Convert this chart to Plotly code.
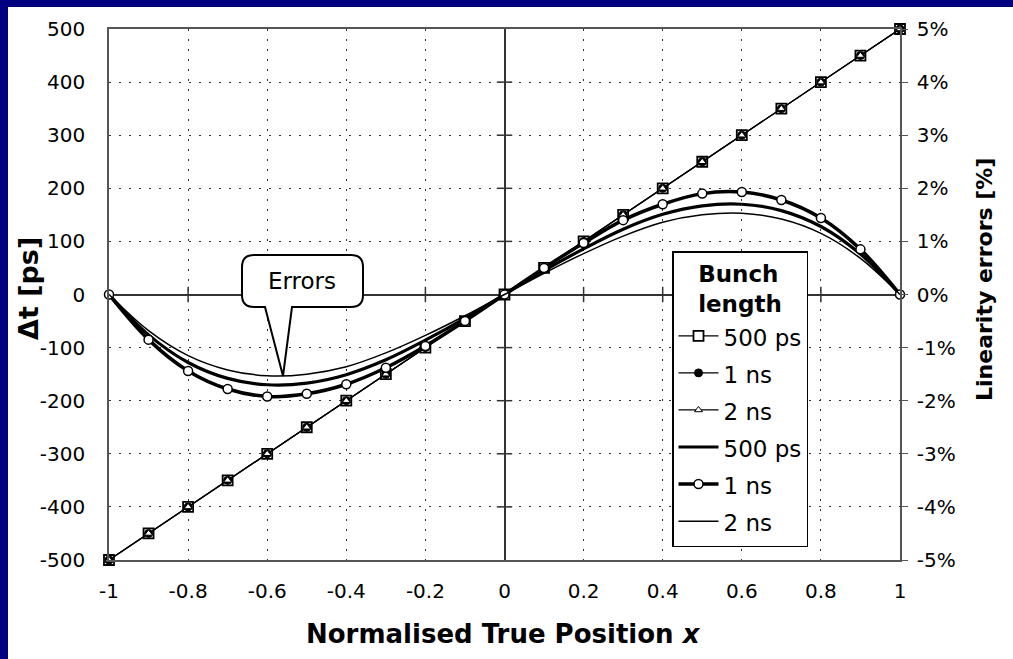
import plotly.graph_objects as go

# ---------------- data ----------------
x_pos = [-1.0, -0.9, -0.8, -0.7, -0.6, -0.5, -0.4, -0.3, -0.2, -0.1, 0.0,
         0.1, 0.2, 0.3, 0.4, 0.5, 0.6, 0.7, 0.8, 0.9, 1.0]

# Delta t [ps] (left axis)
dt_500ps = [-500, -450, -400, -350, -300, -250, -200, -150, -100, -50, 0,
            50, 100, 150, 200, 250, 300, 350, 400, 450, 500]
dt_1ns = [-500, -450, -400, -350, -300, -250, -200, -150, -100, -50, 0,
          50, 100, 150, 200, 250, 300, 350, 400, 450, 500]
dt_2ns = [-500, -450, -400, -350, -300, -250, -200, -150, -100, -50, 0,
          50, 100, 150, 200, 250, 300, 350, 400, 450, 500]

# Linearity errors [%] (right axis)
err_500ps = [0, -0.76, -1.28, -1.58, -1.70, -1.67, -1.51, -1.23, -0.86, -0.45, 0,
             0.45, 0.86, 1.23, 1.51, 1.67, 1.70, 1.58, 1.28, 0.76, 0]
err_1ns = [0, -0.85, -1.44, -1.78, -1.92, -1.87, -1.69, -1.38, -0.97, -0.50, 0,
           0.50, 0.97, 1.40, 1.70, 1.90, 1.93, 1.78, 1.44, 0.85, 0]
err_2ns = [0, -0.68, -1.15, -1.42, -1.53, -1.50, -1.36, -1.10, -0.77, -0.40, 0,
           0.40, 0.77, 1.10, 1.36, 1.50, 1.53, 1.42, 1.15, 0.68, 0]

x_ticks = [-1, -0.8, -0.6, -0.4, -0.2, 0, 0.2, 0.4, 0.6, 0.8, 1]
x_ticktext = ["-1", "-0.8", "-0.6", "-0.4", "-0.2", "0", "0.2", "0.4", "0.6", "0.8", "1"]
y_ticks = [-500, -400, -300, -200, -100, 0, 100, 200, 300, 400, 500]
y_ticktext = ["-500", "-400", "-300", "-200", "-100", "0", "100", "200", "300", "400", "500"]
y2_ticks = [-5, -4, -3, -2, -1, 0, 1, 2, 3, 4, 5]
y2_ticktext = ["-5%", "-4%", "-3%", "-2%", "-1%", "0%", "1%", "2%", "3%", "4%", "5%"]

# ---------------- styles ----------------
FONT = "DejaVu Sans"
NAVY = "#000080"
GRID = "#333333"


def leg(name):
    return f'<span style="font-size:23px">{name}</span>'


fig = go.Figure()

# Delta t traces
fig.add_trace(go.Scatter(x=x_pos, y=dt_500ps, name=leg("500 ps"), mode="lines+markers",
                         legendgroup="dt", yaxis="y", cliponaxis=False,
                         line=dict(color="black", width=1.2),
                         marker=dict(symbol="square", size=10, color="white",
                                     line=dict(color="black", width=1.8))))
fig.add_trace(go.Scatter(x=x_pos, y=dt_1ns, name=leg("1 ns"), mode="lines+markers",
                         legendgroup="dt", yaxis="y", cliponaxis=False,
                         line=dict(color="black", width=1.2),
                         marker=dict(symbol="circle", size=8, color="black",
                                     line=dict(color="black", width=1))))
fig.add_trace(go.Scatter(x=x_pos, y=dt_2ns, name=leg("2 ns"), mode="lines+markers",
                         legendgroup="dt", yaxis="y", cliponaxis=False,
                         line=dict(color="black", width=1.2),
                         marker=dict(symbol="triangle-up", size=7, color="white",
                                     line=dict(color="black", width=1))))

# Error traces
fig.add_trace(go.Scatter(x=x_pos, y=err_500ps, name=leg("500 ps"), mode="lines",
                         legendgroup="err", yaxis="y2", cliponaxis=False,
                         line=dict(color="black", width=3.2, shape="spline")))
fig.add_trace(go.Scatter(x=x_pos, y=err_1ns, name=leg("1 ns"), mode="lines+markers",
                         legendgroup="err", yaxis="y2", cliponaxis=False,
                         line=dict(color="black", width=3.5, shape="spline"),
                         marker=dict(symbol="circle", size=9, color="white",
                                     line=dict(color="black", width=1.5))))
fig.add_trace(go.Scatter(x=x_pos, y=err_2ns, name=leg("2 ns"), mode="lines",
                         legendgroup="err", yaxis="y2", cliponaxis=False,
                         line=dict(color="black", width=1.5, shape="spline")))

# cross ticks on the zero axes
inner_x = [v for v in x_ticks if v not in (-1, 0, 1)]
inner_y = [v for v in y_ticks if v not in (-500, 0, 500)]
fig.add_trace(go.Scatter(x=inner_x, y=[0] * len(inner_x), mode="markers", yaxis="y",
                         showlegend=False, hoverinfo="skip",
                         marker=dict(symbol="line-ns", size=11,
                                     line=dict(color="#333", width=1.5))))
fig.add_trace(go.Scatter(x=[0] * len(inner_y), y=inner_y, mode="markers", yaxis="y",
                         showlegend=False, hoverinfo="skip",
                         marker=dict(symbol="line-ew", size=11,
                                     line=dict(color="#333", width=1.5))))

# ---------------- layout ----------------
L, R, T, B = 109, 900, 29, 560
W, H = 1013, 659
pw, ph = R - L, B - T


def px_x(px):
    return (px - L) / pw


def px_y(py):
    return (B - py) / ph


def dx(px):
    return -1 + 2 * (px - L) / pw


def dy(py):
    return 500 - 1000 * (py - T) / ph


tick_font = dict(family=FONT, size=20, color="black")

fig.update_layout(
    width=W, height=H,
    margin=dict(l=L, r=W - R, t=T, b=H - B, pad=0),
    paper_bgcolor=NAVY, plot_bgcolor="white",
    showlegend=True,
    xaxis=dict(range=[-1, 1], tickvals=x_ticks, ticktext=x_ticktext,
               tickfont=tick_font, ticks="", ticklabelstandoff=12,
               showgrid=True, gridcolor=GRID, griddash="2px,8px", gridwidth=1,
               zeroline=True, zerolinecolor="#333", zerolinewidth=1.5,
               showline=True, linecolor="#555", linewidth=1.5, mirror=True,
               fixedrange=True),
    yaxis=dict(range=[-500, 500], tickvals=y_ticks, ticktext=y_ticktext,
               tickfont=tick_font, ticks="", ticklabelstandoff=18,
               showgrid=True, gridcolor=GRID, griddash="2px,8px", gridwidth=1,
               zeroline=True, zerolinecolor="#333", zerolinewidth=1.5,
               showline=True, linecolor="#555", linewidth=1.5, mirror=True),
    yaxis2=dict(range=[-5, 5], tickvals=y2_ticks, ticktext=y2_ticktext, overlaying="y",
                side="right", tickfont=tick_font, ticks="outside", ticklen=6,
                tickcolor="#555", ticklabelstandoff=5,
                showgrid=False, zeroline=False,
                showline=True, linecolor="#555", linewidth=1.5),
    legend=dict(x=px_x(672), y=px_y(251), xanchor="left", yanchor="top",
                bgcolor="white", bordercolor="black", borderwidth=1.5,
                font=dict(family=FONT, size=26.2, color="black"),
                title=dict(text="<b>Bunch<br>length</b>", side="top center",
                           font=dict(family=FONT, size=23, color="black")),
                tracegroupgap=0, itemwidth=40, traceorder="grouped"),
)

# white page inside the navy frame (navy shows only left and top)
fig.add_shape(type="rect", xref="paper", yref="paper",
              x0=px_x(8), x1=px_x(W + 30), y0=px_y(H + 30), y1=px_y(7),
              fillcolor="white", line=dict(width=0), layer="below")

# legend separators
for sep_py in (323, 430):
    fig.add_shape(type="line", xref="paper", yref="paper",
                  x0=px_x(685), x1=px_x(808), y0=px_y(sep_py), y1=px_y(sep_py),
                  line=dict(color="black", width=1.5), layer="above")

# "Errors" speech-bubble callout
bx0, bx1, by0, by1 = dx(242), dx(363), dy(307), dy(255)
rx, ry = 2 * 12 / pw, 1000 * 12 / ph
pb1, pb2 = dx(265), dx(292)
tipx, tipy = dx(283), dy(376)
path = (f"M {bx0 + rx},{by1} L {bx1 - rx},{by1} Q {bx1},{by1} {bx1},{by1 - ry} "
        f"L {bx1},{by0 + ry} Q {bx1},{by0} {bx1 - rx},{by0} "
        f"L {pb2},{by0} L {tipx},{tipy} L {pb1},{by0} "
        f"L {bx0 + rx},{by0} Q {bx0},{by0} {bx0},{by0 + ry} "
        f"L {bx0},{by1 - ry} Q {bx0},{by1} {bx0 + rx},{by1} Z")
fig.add_shape(type="path", xref="x", yref="y", path=path,
              fillcolor="white", line=dict(color="black", width=2), layer="above")
fig.add_annotation(x=dx(302), y=dy(281), xref="x", yref="y", text="Errors",
                   xanchor="center", yanchor="middle",
                   showarrow=False, font=dict(family=FONT, size=23, color="black"))

# axis titles
fig.add_annotation(x=px_x(503), y=px_y(634), xref="paper", yref="paper",
                   xanchor="center", yanchor="middle",
                   text="<b>Normalised True Position <i>x</i></b>", showarrow=False,
                   font=dict(family=FONT, size=26, color="black"))
fig.add_annotation(x=px_x(28), y=px_y(289), xref="paper", yref="paper",
                   xanchor="center", yanchor="middle",
                   text="<b>Δt [ps]</b>", showarrow=False, textangle=-90,
                   font=dict(family=FONT, size=27, color="black"))
fig.add_annotation(x=px_x(984), y=px_y(280), xref="paper", yref="paper",
                   xanchor="center", yanchor="middle",
                   text="<b>Linearity errors [%]</b>", showarrow=False, textangle=-90,
                   font=dict(family=FONT, size=22, color="black"))

fig.write_html("out.html")
